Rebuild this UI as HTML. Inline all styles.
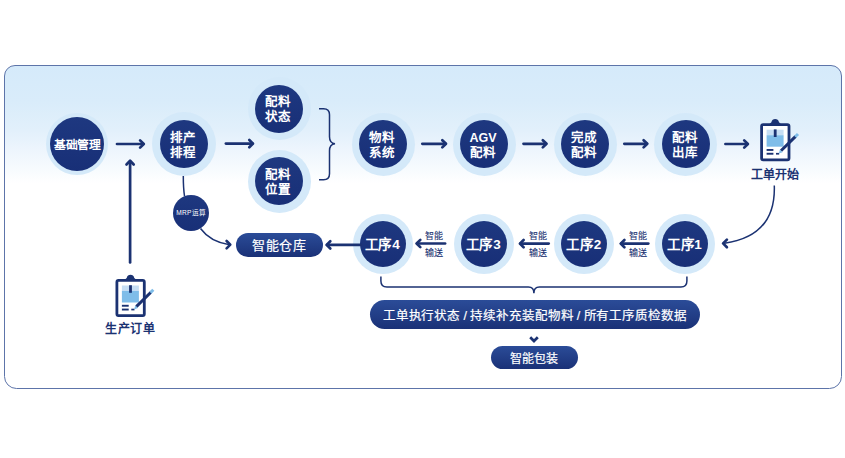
<!DOCTYPE html>
<html lang="zh-CN">
<head>
<meta charset="utf-8">
<style>
*{margin:0;padding:0;box-sizing:border-box}
html,body{width:845px;height:458px;background:#fff;overflow:hidden}
body{position:relative;font-family:"Liberation Sans",sans-serif;color:#1b3272}
.frame{position:absolute;left:4px;top:65px;width:838px;height:324px;border:1.7px solid #5d74a9;border-radius:11px 11px 12.5px 12.5px;
background:linear-gradient(to bottom,#d5eafa 0%,#d9ecfa 11%,#e2f0fb 20%,#edf5fd 26%,#f7fbfe 32%,#ffffff 36.5%,#ffffff 100%)}
.ring{position:absolute;border-radius:50%;background:#d4e9f9}
.c{position:absolute;border-radius:50%;background:linear-gradient(to bottom,#1e3880,#182f77);color:#fff;padding-right:2px;padding-top:3px;
display:flex;align-items:center;justify-content:center;text-align:center;font-weight:bold;font-size:12.5px;line-height:15px}
.pill{position:absolute;border-radius:20px;background:linear-gradient(to bottom,#2b4c98,#1a3177);color:#fff;
display:flex;align-items:center;justify-content:center;white-space:nowrap;-webkit-text-stroke:0.2px #fff}
.lbl{position:absolute;font-size:12px;font-weight:bold;color:#1b3272;white-space:nowrap;text-align:center}
.sm{position:absolute;font-size:9px;color:#1b3272;line-height:16.5px;-webkit-text-stroke:0.1px #1b3272;text-align:center;white-space:nowrap}
svg{position:absolute;left:0;top:0}
</style>
</head>
<body>
<div class="frame"></div>

<!-- top row -->
<div class="ring" style="left:46px;top:113px;width:62px;height:62px"></div>
<div class="c" style="left:50px;top:117px;width:54px;height:54px;font-size:11.8px;letter-spacing:-0.5px;padding-top:2px;padding-right:0;padding-left:0.5px">基础管理</div>

<div class="ring" style="left:152px;top:112px;width:64px;height:64px"></div>
<div class="c" style="left:160px;top:120px;width:48px;height:48px">排产<br>排程</div>

<div class="ring" style="left:247.5px;top:77px;width:63px;height:63px"></div>
<div class="c" style="left:255px;top:84.5px;width:48px;height:48px">配料<br>状态</div>

<div class="ring" style="left:247.5px;top:149.5px;width:63px;height:63px"></div>
<div class="c" style="left:255px;top:157px;width:48px;height:48px">配料<br>位置</div>

<div class="ring" style="left:351.5px;top:112.5px;width:63px;height:63px"></div>
<div class="c" style="left:359px;top:120px;width:48px;height:48px">物料<br>系统</div>

<div class="ring" style="left:452.5px;top:112.5px;width:63px;height:63px"></div>
<div class="c" style="left:460px;top:120px;width:48px;height:48px">AGV<br>配料</div>

<div class="ring" style="left:553.5px;top:112.5px;width:63px;height:63px"></div>
<div class="c" style="left:561px;top:120px;width:48px;height:48px">完成<br>配料</div>

<div class="ring" style="left:654px;top:112.5px;width:63px;height:63px"></div>
<div class="c" style="left:661.5px;top:120px;width:48px;height:48px">配料<br>出库</div>

<!-- bottom row -->
<div class="ring" style="left:352.5px;top:213.8px;width:60px;height:60px"></div>
<div class="c" style="left:359.5px;top:220.8px;width:46px;height:46px;font-size:13.5px;letter-spacing:0.8px;padding-top:2px;padding-right:0">工序4</div>
<div class="ring" style="left:453.5px;top:213.8px;width:60px;height:60px"></div>
<div class="c" style="left:460.5px;top:220.8px;width:46px;height:46px;font-size:13.5px;letter-spacing:0.8px;padding-top:2px;padding-right:0">工序3</div>
<div class="ring" style="left:554px;top:213.8px;width:60px;height:60px"></div>
<div class="c" style="left:561px;top:220.8px;width:46px;height:46px;font-size:13.5px;letter-spacing:0.8px;padding-top:2px;padding-right:0">工序2</div>
<div class="ring" style="left:654.7px;top:213.8px;width:60px;height:60px"></div>
<div class="c" style="left:661.7px;top:220.8px;width:46px;height:46px;font-size:13.5px;letter-spacing:0.8px;padding-top:2px;padding-right:0">工序1</div>

<div class="c" style="left:173.1px;top:195.4px;width:36px;height:36px;font-size:6.6px;font-weight:normal;letter-spacing:0.3px;padding-left:0.5px;padding-right:0;padding-top:0;padding-bottom:1px">MRP运算</div>

<div class="pill" style="left:235.5px;top:233px;width:87px;height:24px;font-size:13px;font-weight:500;letter-spacing:0.6px;padding-left:0.6px;padding-bottom:1px">智能仓库</div>
<div class="pill" style="left:369.5px;top:299.5px;width:330.5px;height:29px;font-size:12.5px;letter-spacing:-0.1px;padding-top:1px">工单执行状态 / 持续补充装配物料 / 所有工序质检数据</div>
<div class="pill" style="left:491px;top:346px;width:86.5px;height:23px;font-size:12px">智能包装</div>

<div class="sm" style="left:424px;top:228px;width:20px">智能<br>输送</div>
<div class="sm" style="left:527.5px;top:228px;width:20px">智能<br>输送</div>
<div class="sm" style="left:627.5px;top:228px;width:20px">智能<br>输送</div>

<div class="lbl" style="left:745px;top:165px;width:60px">工单开始</div>
<div class="lbl" style="left:100px;top:319px;width:60px;letter-spacing:0.6px;padding-left:0.6px">生产订单</div>

<svg width="845" height="458" viewBox="0 0 845 458">
<defs>
<g id="clip">
  <rect x="1.4" y="1.4" width="27.4" height="35.2" rx="1.6" fill="#fff" stroke="#1b3272" stroke-width="2.8"/>
  <path d="M7 2 C9 1.8 10 0 11.2 -0.9 C11.6 -3.5 13.1 -4.3 15 -4.3 C16.9 -4.3 18.4 -3.5 18.8 -0.9 C20 0 21 1.8 23 2 Z" fill="#1b3272"/>
  <rect x="6.4" y="6.5" width="17" height="5.5" fill="#c6def4"/>
  <rect x="6.4" y="12" width="17" height="11.5" fill="#7fbde9"/>
  <rect x="13.6" y="6.2" width="2.8" height="7.6" fill="#1b3272"/>
  <rect x="6.4" y="25.8" width="6.8" height="1.9" fill="#1b3272"/>
  <rect x="6.4" y="29.6" width="6.8" height="1.9" fill="#1b3272"/>
  <rect x="15.8" y="29.7" width="3.2" height="1.7" fill="#1b3272"/>
  <line x1="20.8" y1="27.6" x2="35.4" y2="13.2" stroke="#1b3272" stroke-width="3"/>
  <line x1="35" y1="13.6" x2="37.8" y2="10.8" stroke="#7fbde9" stroke-width="3"/>
  <path d="M18.6 30.4 L19.7 26.4 L22.4 29.1 Z" fill="#7fbde9"/>
</g>

</defs>
<g fill="none" stroke="#1b3272" stroke-width="2.7" stroke-linecap="round" stroke-linejoin="round">
  <!-- top arrows -->
  <path d="M117.0 144H143.3"/><path d="M140.1 140.4l3.7 3.6-3.7 3.6"/>
  <path d="M225.9 143.6H252.5"/><path d="M249.3 140.0l3.7 3.6-3.7 3.6"/>
  <path d="M422.3 143.8H445.5"/><path d="M442.3 140.2l3.7 3.6-3.7 3.6"/>
  <path d="M523.5 143.8H546.0"/><path d="M542.8 140.2l3.7 3.6-3.7 3.6"/>
  <path d="M624.3 143.8H646.8"/><path d="M643.6 140.2l3.7 3.6-3.7 3.6"/>
  <path d="M725.4 144H747.4"/><path d="M744.2 140.4l3.7 3.6-3.7 3.6"/>
  <!-- up arrow -->
  <path d="M130.1 262.5V161.5"/><path d="M126.5 164.5l3.6-3.7 3.6 3.7"/>
  <!-- bottom arrows -->
  <path d="M648.3 243.6H621.2"/><path d="M624.4 240.0l-3.7 3.6 3.7 3.6"/>
  <path d="M548.7 243.6H520.4"/><path d="M523.6 240.0l-3.7 3.6 3.7 3.6"/>
  <path d="M445.1 243.5H417.1"/><path d="M420.3 239.9l-3.7 3.6 3.7 3.6"/>
  <path d="M360.7 244.9H327.1"/><path d="M330.3 241.3l-3.7 3.6 3.7 3.6"/>
</g>
<g fill="none" stroke="#1b3272" stroke-width="1.5">
  <!-- brace -->
  <path d="M319 108.8h4.5q6 0 6 6v22q0 6.5 5.5 7q-5.5 0.5-5.5 7v23q0 6-6 6h-4.5"/>
  <!-- MRP line -->
  <path d="M183.3 176Q183.3 188 184.5 196"/>
  <path d="M200.5 228.5Q210.5 242 229.5 244.7"/><path d="M226.6 241l3.7 3.7-3.7 3.7" stroke-width="2.6" stroke-linecap="round" stroke-linejoin="round"/>
  <!-- curve to 工序1 -->
  <path d="M774.3 185.5Q776 236 724.5 243.3"/><path d="M726.9 239.6l-3.8 3.8 3.8 3.8" stroke-width="2.7" stroke-linecap="round" stroke-linejoin="round"/>
  <!-- bottom bracket -->
  <path d="M380.9 276.5v4.5q0 6 6 6h141.5q5.5 0 5.5 6.2q0-6.2 5.5-6.2h141.5q6 0 6-6v-4.5"/>
  <!-- chevron -->
  <path d="M530.2 337.2l3.8 3.8 3.8-3.8" stroke-width="2.7"/>
</g>
<use href="#clip" transform="translate(760.2 123.2) scale(1.0 1.0)"/>
<use href="#clip" x="115.5" y="279"/>

</svg>
</body>
</html>
